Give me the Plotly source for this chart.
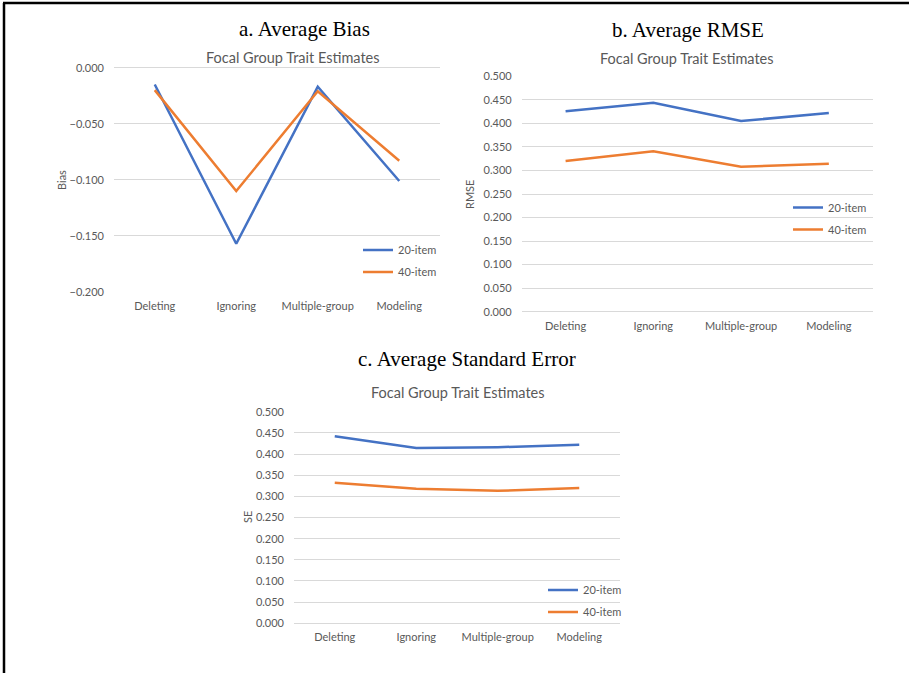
import plotly.graph_objects as go

W, H = 909, 673

methods = ["Deleting", "Ignoring", "Multiple-group", "Modeling"]
series_names = ["20-item", "40-item"]

bias_20 = [-0.015, -0.157, -0.017, -0.101]
bias_40 = [-0.020, -0.110, -0.021, -0.083]

rmse_20 = [0.426, 0.444, 0.405, 0.422]
rmse_40 = [0.320, 0.341, 0.308, 0.314]

se_20 = [0.442, 0.414, 0.416, 0.422]
se_40 = [0.332, 0.318, 0.313, 0.320]

panel_titles = ["a. Average Bias", "b. Average RMSE", "c. Average Standard Error"]
subtitle = "Focal Group Trait Estimates"
y_titles = ["Bias", "RMSE", "SE"]

bias_ticks = [0.0, -0.05, -0.10, -0.15, -0.20]
pos_ticks = [0.0, 0.05, 0.10, 0.15, 0.20, 0.25, 0.30, 0.35, 0.40, 0.45, 0.50]

BLUE = "#4472C4"
ORANGE = "#ED7D31"
GRID = "#D9D9D9"
TXT = "#595959"
FONT = "Lato"


def px(x):
    return x / W


def py(y):
    return 1 - y / H


fig = go.Figure()

panels = [
    dict(x="x", y="y", legend="legend", data=(bias_20, bias_40)),
    dict(x="x2", y="y2", legend="legend2", data=(rmse_20, rmse_40)),
    dict(x="x3", y="y3", legend="legend3", data=(se_20, se_40)),
]
colors = [BLUE, ORANGE]
for p in panels:
    for k, (name, vals) in enumerate(zip(series_names, p["data"])):
        fig.add_trace(go.Scatter(
            x=methods, y=vals, name=name, mode="lines",
            line=dict(color=colors[k], width=2.5),
            xaxis=p["x"], yaxis=p["y"], legend=p["legend"],
            legendgroup=p["legend"] + name,
        ))

# plot area pixel boxes (left, right, top, bottom)
boxes = [
    (114, 440, 67.7, 292.0),
    (521.7, 872.7, 76.3, 311.7),
    (294, 620, 411.7, 623.3),
]

xaxis_common = dict(
    type="category", showgrid=False, showline=False, zeroline=False, ticks="",
    tickfont=dict(family=FONT, size=11, color=TXT), ticklabelstandoff=6,
    automargin=False,
)
yaxis_common = dict(
    showgrid=True, gridcolor=GRID, gridwidth=1, showline=False, ticks="",
    zeroline=True, zerolinecolor=GRID, zerolinewidth=1,
    tickformat=".3f", tickfont=dict(family=FONT, size=11, color=TXT),
    ticklabelstandoff=9, automargin=False,
)

layout = dict(
    width=W, height=H, margin=dict(l=0, r=0, t=0, b=0, autoexpand=False),
    paper_bgcolor="white", plot_bgcolor="white",
    font=dict(family=FONT, color=TXT),
)

ranges = [[-0.2, 0.0], [0.0, 0.5], [0.0, 0.5]]
tickvals = [bias_ticks, pos_ticks, pos_ticks]
suffix = ["", "2", "3"]
for i, (l, r, t, b) in enumerate(boxes):
    layout["xaxis" + suffix[i]] = dict(
        xaxis_common, domain=[px(l), px(r)], anchor="y" + suffix[i],
        range=[-0.5, 3.5])
    layout["yaxis" + suffix[i]] = dict(
        yaxis_common, domain=[py(b), py(t)], anchor="x" + suffix[i],
        range=ranges[i], tickvals=tickvals[i])

legend_common = dict(
    font=dict(family=FONT, size=11, color=TXT), bgcolor="rgba(0,0,0,0)",
    borderwidth=0, tracegroupgap=3, xanchor="left", yanchor="middle",
    orientation="v", itemwidth=30,
)
layout["legend"] = dict(legend_common, x=px(358), y=py(261))
layout["legend2"] = dict(legend_common, x=px(788), y=py(218.5))
layout["legend3"] = dict(legend_common, x=px(543), y=py(601))
fig.update_layout(**layout)

# titles, subtitles and axis titles
title_pos = [(304, 29), (688, 30), (467, 359)]
sub_pos = [(293, 57), (687, 58), (458, 392)]
ytitle_pos = [(62, 180), (470, 194), (247, 517)]
for i in range(3):
    fig.add_annotation(
        text=panel_titles[i], x=px(title_pos[i][0]), y=py(title_pos[i][1]),
        xref="paper", yref="paper", showarrow=False, xanchor="center",
        yanchor="middle", font=dict(family="Liberation Serif", size=21, color="black"))
    fig.add_annotation(
        text=subtitle, x=px(sub_pos[i][0]), y=py(sub_pos[i][1]),
        xref="paper", yref="paper", showarrow=False, xanchor="center",
        yanchor="middle", font=dict(family=FONT, size=14.5, color=TXT))
    fig.add_annotation(
        text=y_titles[i], x=px(ytitle_pos[i][0]), y=py(ytitle_pos[i][1]),
        xref="paper", yref="paper", showarrow=False, xanchor="center",
        yanchor="middle", textangle=-90, font=dict(family=FONT, size=11, color=TXT))

# outer black frame (top and left edges)
fig.add_shape(type="line", xref="paper", yref="paper",
              x0=px(3), x1=px(909), y0=py(3), y1=py(3),
              line=dict(color="black", width=2.5))
fig.add_shape(type="line", xref="paper", yref="paper",
              x0=px(4), x1=px(4), y0=py(3), y1=py(673),
              line=dict(color="black", width=2.5))

fig.write_html("out.html", config={"displayModeBar": False},
               post_script="document.body.style.margin='0px';")
